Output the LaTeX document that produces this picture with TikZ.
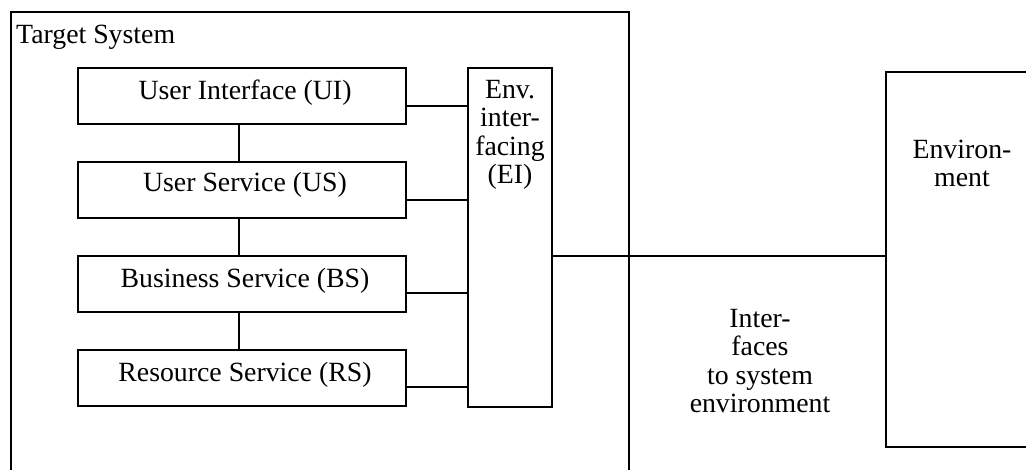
\documentclass[tikz,border=0pt]{standalone}
\usepackage{fontspec}
\setmainfont{Liberation Serif}
\begin{document}
\begin{tikzpicture}[x=1pt,y=-1pt,
  frame/.style={draw,line width=1.4pt,rectangle,inner sep=0pt},
  layerbox/.style={frame,minimum width=328pt,minimum height=56pt},
  wire/.style={line width=1.4pt},
  txt/.style={inner sep=0pt,font=\fontsize{27.8}{28.3}\selectfont},
  multi/.style={txt,align=center,anchor=north}
]
\clip (0,0) rectangle (1026,470);
% outer frames (partly cut off by the page edge)
\node[frame,minimum width=618pt,minimum height=480pt] (target) at (320,252) {};
\node[frame,minimum width=160pt,minimum height=375pt] (env) at (966,259.5) {};
\node[txt,anchor=base west] (tslabel) at (16,44) {Target System};

% layer stack
\node[layerbox] (ui) at (242,96) {};
\node[layerbox] (us) at (242,190) {};
\node[layerbox] (bs) at (242,284) {};
\node[layerbox] (rs) at (242,378) {};
\node[txt,anchor=base] at (245,100) {User Interface (UI)};
\node[txt,anchor=base] at (245,192) {User Service (US)};
\node[txt,anchor=base] at (245,288) {Business Service (BS)};
\node[txt,anchor=base] at (245,382) {Resource Service (RS)};

% environment interfacing column
\node[frame,minimum width=84pt,minimum height=339pt] (ei) at (510,237.5) {};
\node[multi] (eitext) at (510,80) {Env.\\inter-\\facing\\(EI)};

% labels on the right
\node[multi] (envtext) at (962,140) {Environ-\\ment};
\node[multi] (iftext) at (760,309) {Inter-\\faces\\to system\\environment};

% vertical links between layers
\draw[wire] (ui.south) ++(-3,0) coordinate (a1) -- (a1 |- us.north);
\draw[wire] (us.south) ++(-3,0) coordinate (a2) -- (a2 |- bs.north);
\draw[wire] (bs.south) ++(-3,0) coordinate (a3) -- (a3 |- rs.north);

% links to the interfacing column
\draw[wire] ([yshift=-10pt]ui.east) coordinate (b1) -- (b1 -| ei.west);
\draw[wire] ([yshift=-10pt]us.east) coordinate (b2) -- (b2 -| ei.west);
\draw[wire] ([yshift=-9pt]bs.east) coordinate (b3) -- (b3 -| ei.west);
\draw[wire] ([yshift=-9pt]rs.east) coordinate (b4) -- (b4 -| ei.west);

% link to the environment
\draw[wire] (ei.east |- 0,256) coordinate (c1) -- (c1 -| env.west);
\end{tikzpicture}
\end{document}
